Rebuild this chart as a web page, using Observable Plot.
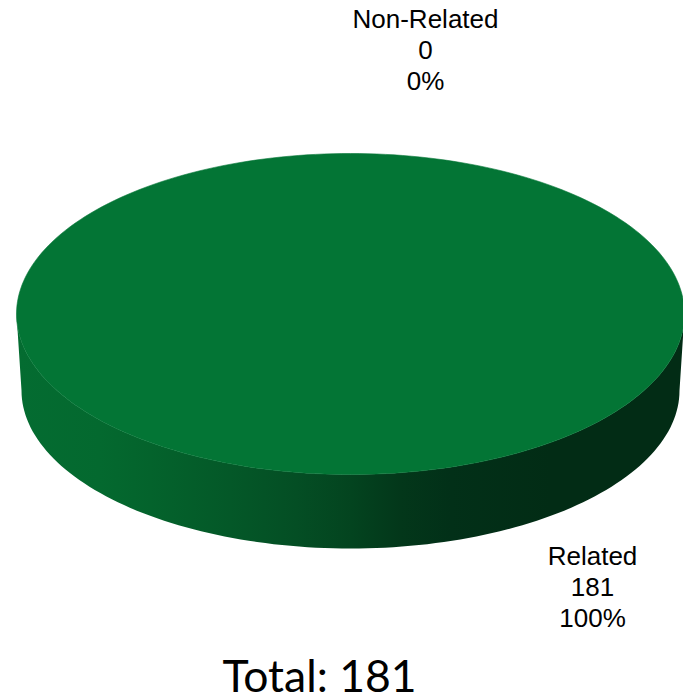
<!DOCTYPE html>
<html>
<head>
<meta charset="utf-8">
<script src="https://cdn.jsdelivr.net/npm/d3@7"></script>
<script src="https://cdn.jsdelivr.net/npm/@observablehq/plot@0.6"></script>
<style>
html,body{margin:0;padding:0;background:#fff}
svg{display:block}
</style>
</head>
<body>
<div id="chart"></div>
<script>
// Data
const categories = ["Related", "Non-Related"];
const counts = [181, 0];
const percents = ["100%", "0%"];
const totalLabel = "Total: 181";

// Styles
const sliceColors = ["#037535", "#b0392b"];
const sideOffsets = [0, 0.125, 0.2, 0.32, 0.42, 0.5, 0.575, 0.65, 0.8, 1];
const sideColors = ["#046c31", "#04692f", "#04632c", "#045828", "#044e24", "#03441f", "#03371a", "#023018", "#022c15", "#022c15"];

// Layout of the tilted disc, in page pixels
const top3d = {cx: 350, cy: 313.5, rx: 334, ry: 160.5};
const bottom3d = {cx: 350, cy: 390, rx: 329, ry: 158};
const steps = 240;

const ellipsePoint = (e, a) => ({x: e.cx + e.rx * Math.cos(a), y: e.cy + e.ry * Math.sin(a)});

// Slice angles come from the values
const arcs = d3.pie().sort(null)(counts);
const topFace = arcs.flatMap((arc, i) => {
  const span = arc.endAngle - arc.startAngle;
  if (span === 0) return [];
  const n = Math.max(2, Math.ceil(steps * span / (2 * Math.PI)));
  return d3.range(n + 1).map(k => ({
    category: categories[i],
    ...ellipsePoint(top3d, arc.startAngle + span * k / n)
  }));
});

// The visible wall: front half of the top rim, then back along the bottom rim
const half = d3.range(steps / 2 + 1).map(k => Math.PI * k / (steps / 2));
const wall = [
  ...half.map(a => ellipsePoint(top3d, a)),
  ...half.slice().reverse().map(a => ellipsePoint(bottom3d, a))
];

const labelText = i => `${categories[i]}\n${counts[i]}\n${percents[i]}`;
const labels = [
  {text: labelText(1), x: 425, y: 49},
  {text: labelText(0), x: 592, y: 586}
];

const wallGradient = () => {
  const defs = d3.create("svg:defs");
  const g = defs.append("linearGradient").attr("id", "wallShade")
    .attr("x1", 0).attr("x2", 1).attr("y1", 0).attr("y2", 0);
  sideOffsets.forEach((o, i) => g.append("stop").attr("offset", o).attr("stop-color", sideColors[i]));
  return defs.node();
};

const chart = Plot.plot({
  width: 683,
  height: 700,
  margin: 0,
  style: {background: "#fff"},
  x: {domain: [0, 683], range: [0, 683], axis: null},
  y: {domain: [0, 700], range: [0, 700], axis: null},
  color: {domain: categories, range: sliceColors},
  marks: [
    wallGradient,
    Plot.line(wall, {x: "x", y: "y", fill: "url(#wallShade)", stroke: "none"}),
    Plot.line(topFace, {x: "x", y: "y", z: "category", fill: "category", stroke: "category", strokeWidth: 0.6}),
    Plot.text(labels, {
      x: "x", y: "y", text: "text",
      fontFamily: "Liberation Sans", fontSize: 26, lineHeight: 1.19,
      fill: "#000", textAnchor: "middle"
    }),
    Plot.text([totalLabel], {
      x: () => 319, y: () => 677, text: d => d,
      fontFamily: "Lato", fontSize: 44.5, fill: "#000", textAnchor: "middle"
    })
  ]
});
document.getElementById("chart").append(chart);
</script>
</body>
</html>
